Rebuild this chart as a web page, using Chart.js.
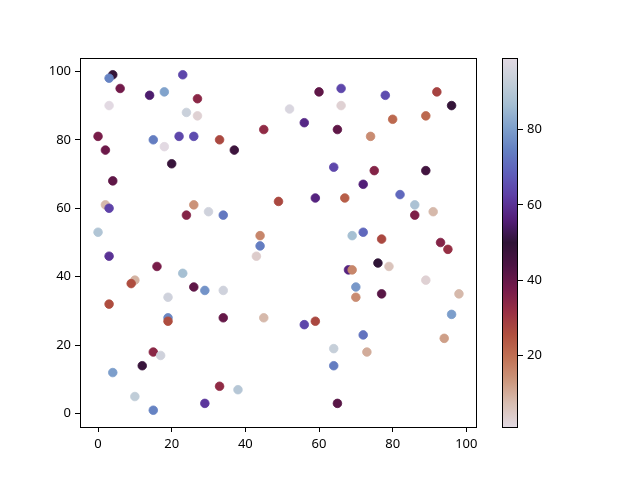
<!DOCTYPE html>
<html>
<head>
<meta charset="utf-8">
<script src="https://cdn.jsdelivr.net/npm/chart.js@4.4.1/dist/chart.umd.min.js"></script>
<style>
    html, body { margin: 0; padding: 0; background: #fff; }
    #wrap { position: relative; width: 640px; height: 480px; }
    #main { position: absolute; left: 0; top: 0; width: 490px; height: 480px; }
    #cbar { position: absolute; left: 440px; top: 0; width: 200px; height: 480px; }
</style>
</head>
<body>
<div id="wrap">
    <canvas id="main" width="490" height="480"></canvas>
    <canvas id="cbar" width="200" height="480"></canvas>
</div>
<script>
// Data
const xVals = [4, 3, 6, 23, 14, 18, 27, 3, 24, 27, 45, 0, 2, 15, 18, 22, 26, 33, 37, 20,
               4, 2, 3, 26, 24, 30, 34, 0, 44, 44, 49, 60, 66, 78, 92, 96, 52, 66, 56, 65,
               80, 89, 74, 64, 75, 89, 72, 59, 67, 82, 86, 86, 91, 69, 72, 77, 93, 95, 76, 79,
               68, 69, 89, 70, 70, 77, 98, 96, 56, 59, 72, 94, 64, 73, 64, 65, 3, 43, 16, 23,
               10, 9, 26, 29, 34, 19, 3, 19, 19, 34, 45, 15, 17, 12, 4, 33, 38, 10, 29, 15];
const yVals = [99, 98, 95, 99, 93, 94, 92, 90, 88, 87, 83, 81, 77, 80, 78, 81, 81, 80, 77, 73,
               68, 61, 60, 61, 58, 59, 58, 53, 52, 49, 62, 94, 95, 93, 94, 90, 89, 90, 85, 83,
               86, 87, 81, 72, 71, 71, 67, 63, 63, 64, 61, 58, 59, 52, 53, 51, 50, 48, 44, 43,
               42, 42, 39, 37, 34, 35, 35, 29, 26, 27, 23, 22, 19, 18, 14, 3, 46, 46, 43, 41,
               39, 38, 37, 36, 36, 34, 32, 28, 27, 28, 28, 18, 17, 14, 12, 8, 7, 5, 3, 1];
const cVals = [49, 75, 38, 64, 55, 81, 34, 99, 94, 3, 33, 37, 39, 74, 1, 64, 65, 27, 47, 48,
               41, 8, 63, 14, 35, 95, 73, 89, 16, 74, 27, 41, 64, 65, 28, 49, 97, 3, 58, 41,
               21, 21, 15, 64, 35, 46, 56, 57, 23, 70, 88, 36, 8, 87, 70, 27, 35, 32, 50, 6,
               57, 16, 3, 79, 15, 42, 8, 80, 64, 27, 72, 12, 93, 10, 74, 42, 60, 4, 37, 87,
               9, 26, 41, 78, 95, 95, 26, 76, 26, 40, 8, 34, 95, 48, 80, 33, 90, 92, 61, 75];
const xTicks = [0, 20, 40, 60, 80, 100];
const yTicks = [0, 20, 40, 60, 80, 100];
const cTicks = [20, 40, 60, 80];

const cMin = Math.min(...cVals);
const cMax = Math.max(...cVals);

// twilight colour map anchors (reversed when used)
const twilight = ['#e2d9e2', '#c5cfd9', '#a5bfd3', '#7fa1cc', '#6480c2', '#5f5fbb', '#5e3ea5', '#531e79',
                  '#2f1436', '#4c1444', '#741a4a', '#983044', '#b0503f', '#c17255', '#cc977d', '#d8bfb3', '#e2d9e2'];

function hexToRgb(h) {
    return [parseInt(h.substr(1, 2), 16), parseInt(h.substr(3, 2), 16), parseInt(h.substr(5, 2), 16)];
}

function colorAt(v) {
    let t = 1 - (v - cMin) / (cMax - cMin);
    t = Math.max(0, Math.min(1, t));
    const pos = t * (twilight.length - 1);
    const i = Math.min(Math.floor(pos), twilight.length - 2);
    const f = pos - i;
    const a = hexToRgb(twilight[i]), b = hexToRgb(twilight[i + 1]);
    const c = a.map((av, k) => Math.round(av + (b[k] - av) * f));
    return 'rgb(' + c.join(',') + ')';
}

const fontSpec = { family: '"Noto Sans", "DejaVu Sans", sans-serif', size: 13 };

const frame = {
    id: 'frame',
    afterDraw(chart) {
        const a = chart.chartArea, ctx = chart.ctx;
        ctx.save();
        ctx.strokeStyle = '#000';
        ctx.lineWidth = 1;
        ctx.strokeRect(Math.round(a.left) + 0.5, Math.round(a.top) + 0.5,
                       Math.round(a.right - a.left) - 1, Math.round(a.bottom - a.top));
        ctx.restore();
    }
};

function tickAxis(ticks, extra) {
    return Object.assign({
        type: 'linear',
        grid: { display: true, drawOnChartArea: false, drawTicks: true, tickLength: 5, color: '#000', lineWidth: 1 },
        border: { display: false },
        ticks: { color: '#000', font: fontSpec, padding: 4, maxRotation: 0 },
        afterBuildTicks(scale) { scale.ticks = ticks.map(v => ({ value: v })); }
    }, extra);
}

const points = xVals.map((x, i) => ({ x: x, y: yVals[i] }));
const colors = cVals.map(colorAt);

new Chart(document.getElementById('main'), {
    type: 'scatter',
    data: {
        datasets: [{
            data: points,
            pointRadius: 4.3,
            pointHoverRadius: 4.3,
            pointBackgroundColor: colors,
            pointBorderColor: colors,
            pointBorderWidth: 0.8
        }]
    },
    options: {
        responsive: false,
        animation: false,
        layout: { padding: { left: 0, top: 58, right: 13, bottom: 0 } },
        plugins: { legend: { display: false }, tooltip: { enabled: false } },
        scales: {
            x: tickAxis(xTicks, { min: -4.9, max: 102.9, afterFit(scale) { scale.height = 53; } }),
            y: tickAxis(yTicks, { min: -3.9, max: 103.9, afterFit(scale) { scale.width = 80; } })
        }
    },
    plugins: [frame]
});

// colour bar
const gradientFill = {
    id: 'gradientFill',
    beforeDraw(chart) {
        const a = chart.chartArea, ctx = chart.ctx;
        const g = ctx.createLinearGradient(0, a.bottom, 0, a.top);
        for (let k = 0; k <= 100; k++) {
            g.addColorStop(k / 100, colorAt(cMin + (cMax - cMin) * k / 100));
        }
        ctx.save();
        ctx.fillStyle = g;
        ctx.fillRect(a.left, a.top, a.right - a.left, a.bottom - a.top);
        ctx.restore();
    }
};

new Chart(document.getElementById('cbar'), {
    type: 'scatter',
    data: { datasets: [{ data: [] }] },
    options: {
        responsive: false,
        animation: false,
        layout: { padding: { left: 62, top: 58, right: 0, bottom: 53 } },
        plugins: { legend: { display: false }, tooltip: { enabled: false } },
        scales: {
            x: { display: false, min: 0, max: 1 },
            y: tickAxis(cTicks, { position: 'right', min: cMin, max: cMax, afterFit(scale) { scale.width = 122; } })
        }
    },
    plugins: [gradientFill, frame]
});
</script>
</body>
</html>
